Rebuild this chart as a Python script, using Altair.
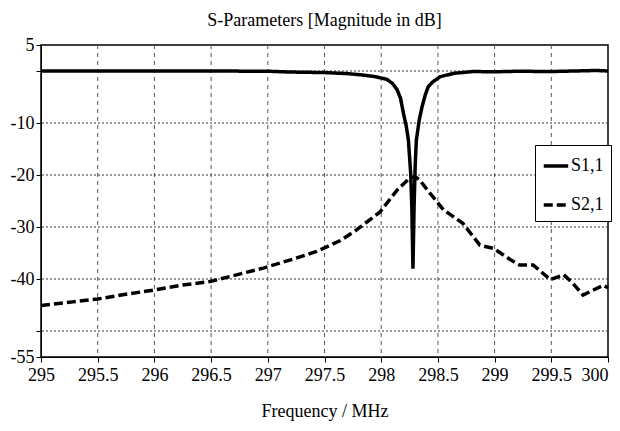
import altair as alt
import pandas as pd

s11_freq = [295.0, 295.5, 296.0, 296.5, 297.0, 297.2, 297.5, 297.7, 297.85, 297.95, 298.05, 298.1,
            298.14, 298.17, 298.195, 298.22, 298.24, 298.26, 298.27, 298.28, 298.29, 298.30, 298.31,
            298.335, 298.36, 298.39, 298.415, 298.46, 298.52, 298.64, 298.81, 299.0, 299.2, 299.5,
            299.7, 299.9, 300.0]
s11_db = [0.0, 0.0, 0.0, 0.0, -0.05, -0.2, -0.3, -0.5, -0.8, -1.1, -1.6, -2.4,
          -3.6, -5.2, -8.0, -10.5, -13.3, -19.7, -26.0, -38.0, -26.0, -18.0, -13.3,
          -9.5, -6.9, -4.5, -3.0, -2.0, -1.1, -0.45, -0.1, -0.15, -0.05, -0.1,
          0.0, 0.1, 0.0]

s21_freq = [295.0, 295.28, 295.5, 295.76, 296.0, 296.25, 296.49, 296.67, 296.96, 297.25, 297.43,
            297.64, 297.78, 297.99, 298.14, 298.25, 298.3, 298.34, 298.43, 298.55, 298.72, 298.87,
            298.99, 299.14, 299.22, 299.34, 299.49, 299.61, 299.69, 299.78, 299.96, 300.0]
s21_db = [-45.1, -44.4, -43.85, -42.9, -42.1, -41.15, -40.5, -39.5, -37.9, -36.0, -34.7,
          -32.6, -30.6, -27.1, -22.9, -20.6, -20.3, -21.0, -23.5, -26.7, -29.3, -33.5,
          -34.1, -36.3, -37.3, -37.3, -40.1, -39.2, -40.8, -43.1, -41.2, -41.7]

series_names = ["S1,1", "S2,1"]
x_ticks = [295, 295.5, 296, 296.5, 297, 297.5, 298, 298.5, 299, 299.5, 300]
y_ticks = [5, 0, -10, -20, -30, -40, -50, -55]

rows = []
for i, (f, v) in enumerate(zip(s11_freq, s11_db)):
    rows.append({"freq": f, "db": v, "series": series_names[0], "order": i})
for i, (f, v) in enumerate(zip(s21_freq, s21_db)):
    rows.append({"freq": f, "db": v, "series": series_names[1], "order": i})
df = pd.DataFrame(rows)

FONT = "'Liberation Serif', 'Times New Roman', 'DejaVu Serif', serif"

xgrid = pd.DataFrame({"freq": x_ticks[1:-1]})
ygrid = pd.DataFrame({"db": [0, -10, -20, -30, -40, -50]})

xscale = alt.Scale(domain=[295, 300], nice=False, zero=False)
yscale = alt.Scale(domain=[-55, 5], nice=False, zero=False)

vgrid = alt.Chart(xgrid).mark_rule(color="#555555", strokeWidth=1, strokeDash=[4, 4]).encode(
    x=alt.X("freq:Q", scale=xscale)
)
hgrid = alt.Chart(ygrid).mark_rule(color="#333333", strokeWidth=1, strokeDash=[2, 2]).encode(
    y=alt.Y("db:Q", scale=yscale)
)

lines = alt.Chart(df).mark_line(strokeWidth=3.5, color="black", strokeCap="butt").encode(
    x=alt.X("freq:Q", scale=xscale,
            axis=alt.Axis(values=x_ticks, labelExpr="'' + datum.value", title="Frequency / MHz",
                          grid=False, tickColor="black", domainColor="black", tickSize=5,
                          labelColor="black", titleColor="black", labelFont=FONT, titleFont=FONT,
                          labelFontSize=18, titleFontSize=18, titleFontWeight="normal",
                          labelPadding=4, titlePadding=18, labelFlush=False,
                          labelAlign=alt.ConditionalAxisLabelAlign(
                              condition={"test": "datum.value >= 300", "value": "right"},
                              value="center"))),
    y=alt.Y("db:Q", scale=yscale,
            axis=alt.Axis(values=y_ticks,
                          labelExpr="(datum.value == 0 || datum.value == -50) ? '' : '' + datum.value",
                          title=None, grid=False, tickColor="black", domainColor="black", tickSize=5,
                          labelColor="black", labelFont=FONT, labelFontSize=18, labelPadding=2,
                          labelFlush=False)),
    strokeDash=alt.StrokeDash("series:N",
                              scale=alt.Scale(domain=series_names, range=[[1, 0], [9, 4]]),
                              legend=alt.Legend(title=None, orient="none", legendX=494, legendY=100,
                                                symbolType="stroke", symbolStrokeColor="black",
                                                symbolStrokeWidth=3.5, symbolSize=600,
                                                labelFont=FONT, labelFontSize=18, labelColor="black",
                                                rowPadding=16, padding=7, strokeColor="black",
                                                fillColor="white", labelOffset=1)),
    order="order:Q",
)

chart = alt.layer(vgrid, hgrid, lines).properties(
    width=567, height=312,
    title=alt.TitleParams("S-Parameters [Magnitude in dB]", font=FONT, fontSize=18,
                          fontWeight="normal", color="black", offset=6),
    autosize=alt.AutoSizeParams(type="none"),
    padding={"left": 33, "top": 37, "right": 4, "bottom": 74},
).configure_view(stroke="black", strokeWidth=1.5)

chart.save("out.html", embed_options={"renderer": "svg", "actions": False})
